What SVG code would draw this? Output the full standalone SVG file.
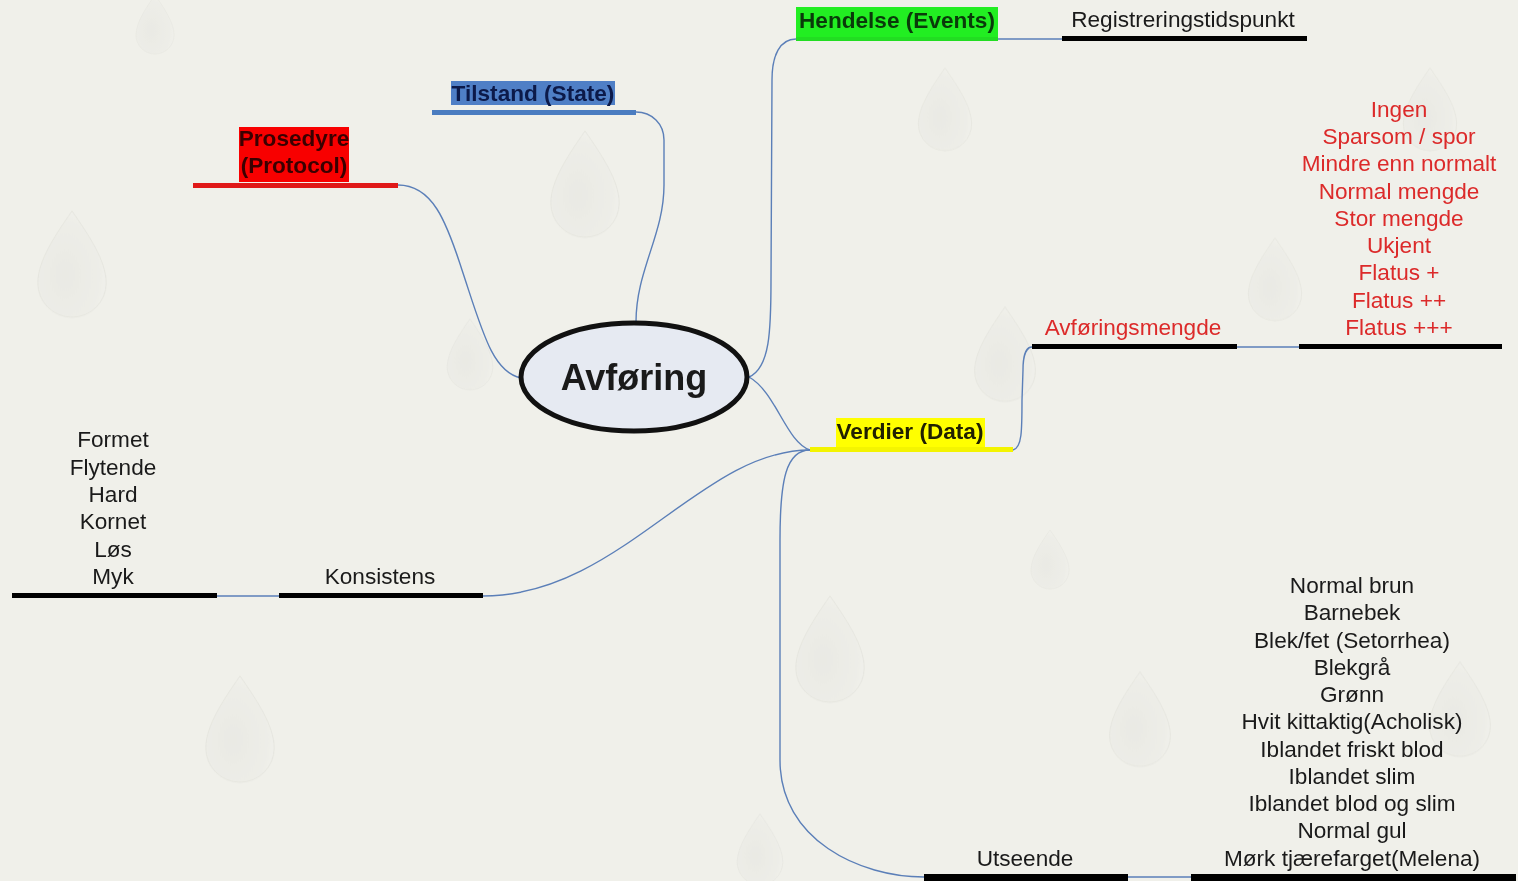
<svg xmlns="http://www.w3.org/2000/svg" width="1518" height="881" viewBox="0 0 1518 881">
<defs>
<style>
.lbl{font-family:"Liberation Sans",Arial,sans-serif;font-size:22.6px;text-anchor:middle;fill:#1a1a1a}
.b{font-weight:bold}
.red{fill:#dc2a2a}
.con{fill:none;stroke:#5b7fb8;stroke-width:1.4}
.bar{stroke:none}
.drop{fill:url(#dg);stroke:#dcdcd6;stroke-width:1}
</style>
<radialGradient id="dg" cx="0.4" cy="0.6" r="0.7">
<stop offset="0" stop-color="#e6e6e0"/>
<stop offset="0.7" stop-color="#ecece6"/>
<stop offset="1" stop-color="#f3f3ee"/>
</radialGradient>
<path id="drop" d="M0,-60 C18,-34 38,-5 38,20 A38,38 0 0 1 -38,20 C-38,-5 -18,-34 0,-60 Z"/>
</defs>
<rect width="1518" height="881" fill="#f0f0ea"/>
<g id="background" opacity="0.6">
<use href="#drop" class="drop" transform="translate(72,265) scale(0.9)"/>
<use href="#drop" class="drop" transform="translate(585,185) scale(0.9)"/>
<use href="#drop" class="drop" transform="translate(945,110) scale(0.7)"/>
<use href="#drop" class="drop" transform="translate(1005,355) scale(0.8)"/>
<use href="#drop" class="drop" transform="translate(1275,280) scale(0.7)"/>
<use href="#drop" class="drop" transform="translate(830,650) scale(0.9)"/>
<use href="#drop" class="drop" transform="translate(240,730) scale(0.9)"/>
<use href="#drop" class="drop" transform="translate(1140,720) scale(0.8)"/>
<use href="#drop" class="drop" transform="translate(1460,710) scale(0.8)"/>
<use href="#drop" class="drop" transform="translate(1050,560) scale(0.5)"/>
<use href="#drop" class="drop" transform="translate(470,355) scale(0.6)"/>
<use href="#drop" class="drop" transform="translate(1430,110) scale(0.7)"/>
<use href="#drop" class="drop" transform="translate(760,850) scale(0.6)"/>
<use href="#drop" class="drop" transform="translate(155,25) scale(0.5)"/>
</g>
<g id="connectors">
<path class="con" d="M636,322 C636,270 664,235 664,185 L664,140 C664,124 652,112 636,112"/>
<path class="con" d="M521,378 C492,372 482,330 462,270 C446,220 432,185 398,185"/>
<path class="con" d="M749,377 C770,368 771,330 771,280 L772,80 C772,55 780,39 796,39"/>
<path class="con" d="M749,377 C776,392 786,442 810,450"/>
<path class="con" d="M998,39 L1062,39"/>
<path class="con" d="M1013,450 C1022,448 1022,430 1022,400 L1023,370 C1023,354 1027,347 1032,347"/>
<path class="con" d="M1237,347 L1299,347"/>
<path class="con" d="M810,450 C700,450 620,596 483,596"/>
<path class="con" d="M279,596 L217,596"/>
<path class="con" d="M810,450 C786,450 780,480 780,540 L780,760 C780,840 860,877 924,877"/>
<path class="con" d="M1128,877 L1191,877"/>
</g>
<g id="center">
<ellipse cx="634" cy="377" rx="113" ry="54" fill="#e6eaf2" stroke="#111" stroke-width="5"/>
<text x="634" y="390" class="lbl b" style="font-size:36px">Avføring</text>
</g>
<g id="tilstand">
<rect x="451" y="81" width="164" height="24" fill="#4f7fc6"/>
<rect class="bar" x="432" y="110" width="204" height="5" fill="#4a7cc0"/>
<text x="533" y="101" class="lbl b" style="fill:#0c1a4a">Tilstand (State)</text>
</g>
<g id="prosedyre">
<rect x="239" y="127" width="110" height="55" fill="#f80000"/>
<rect class="bar" x="193" y="183" width="205" height="5" fill="#e01818"/>
<text x="294" y="146" class="lbl b" style="fill:#3a0000">Prosedyre</text>
<text x="294" y="173" class="lbl b" style="fill:#3a0000">(Protocol)</text>
</g>
<g id="hendelse">
<rect x="796" y="7" width="202" height="33" fill="#22ee22"/>
<rect class="bar" x="796" y="37" width="202" height="4" fill="#22dd22"/>
<text x="897" y="28" class="lbl b" style="fill:#0a3a0a">Hendelse (Events)</text>
</g>
<g id="registrering">
<rect class="bar" x="1062" y="36" width="245" height="5" fill="#000"/>
<text x="1183" y="27" class="lbl">Registreringstidspunkt</text>
</g>
<g id="verdier">
<rect x="836" y="418" width="149" height="30" fill="#ffff00"/>
<rect class="bar" x="810" y="447" width="203" height="5" fill="#f4f400"/>
<text x="910" y="439" class="lbl b" style="fill:#202000">Verdier (Data)</text>
</g>
<g id="avforingsmengde">
<rect class="bar" x="1032" y="344" width="205" height="5" fill="#000"/>
<text x="1133" y="335" class="lbl red">Avføringsmengde</text>
</g>
<g id="mengde-verdier">
<rect class="bar" x="1299" y="344" width="203" height="5" fill="#000"/>
<text class="lbl red" x="1399" y="117">Ingen</text>
<text class="lbl red" x="1399" y="144">Sparsom / spor</text>
<text class="lbl red" x="1399" y="171">Mindre enn normalt</text>
<text class="lbl red" x="1399" y="199">Normal mengde</text>
<text class="lbl red" x="1399" y="226">Stor mengde</text>
<text class="lbl red" x="1399" y="253">Ukjent</text>
<text class="lbl red" x="1399" y="280">Flatus +</text>
<text class="lbl red" x="1399" y="308">Flatus ++</text>
<text class="lbl red" x="1399" y="335">Flatus +++</text>
</g>
<g id="konsistens">
<rect class="bar" x="279" y="593" width="204" height="5" fill="#000"/>
<text x="380" y="584" class="lbl">Konsistens</text>
</g>
<g id="konsistens-verdier">
<rect class="bar" x="12" y="593" width="205" height="5" fill="#000"/>
<text class="lbl" x="113" y="447">Formet</text>
<text class="lbl" x="113" y="475">Flytende</text>
<text class="lbl" x="113" y="502">Hard</text>
<text class="lbl" x="113" y="529">Kornet</text>
<text class="lbl" x="113" y="557">Løs</text>
<text class="lbl" x="113" y="584">Myk</text>
</g>
<g id="utseende">
<rect class="bar" x="924" y="874" width="204" height="7" fill="#000"/>
<text x="1025" y="866" class="lbl">Utseende</text>
</g>
<g id="utseende-verdier">
<rect class="bar" x="1191" y="874" width="325" height="7" fill="#000"/>
<text class="lbl" x="1352" y="593">Normal brun</text>
<text class="lbl" x="1352" y="620">Barnebek</text>
<text class="lbl" x="1352" y="648">Blek/fet (Setorrhea)</text>
<text class="lbl" x="1352" y="675">Blekgrå</text>
<text class="lbl" x="1352" y="702">Grønn</text>
<text class="lbl" x="1352" y="729">Hvit kittaktig(Acholisk)</text>
<text class="lbl" x="1352" y="757">Iblandet friskt blod</text>
<text class="lbl" x="1352" y="784">Iblandet slim</text>
<text class="lbl" x="1352" y="811">Iblandet blod og slim</text>
<text class="lbl" x="1352" y="838">Normal gul</text>
<text class="lbl" x="1352" y="866">Mørk tjærefarget(Melena)</text>
</g>
</svg>
